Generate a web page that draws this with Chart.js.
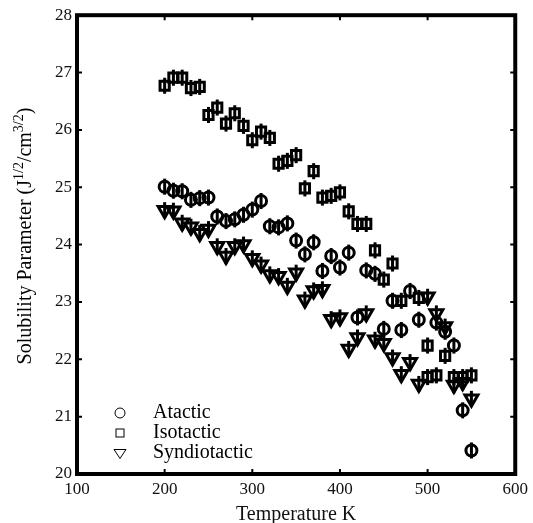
<!DOCTYPE html>
<html>
<head>
<meta charset="utf-8">
<script src="https://cdn.jsdelivr.net/npm/chart.js@4"></script>
<style>
  body { margin: 0; background: #fff; }
  #wrap { width: 533px; height: 523px; position: relative; }
</style>
</head>
<body>
<div id="wrap"><canvas id="solubility-chart"></canvas></div>
<script>
// data (temperature in K, solubility parameter)
const atacticT = [200, 210, 220, 230, 240, 250, 260, 270, 280, 290, 300, 310, 320, 330, 340, 350, 360, 370, 380, 390, 400, 410, 420, 430, 440, 450, 460, 470, 480, 490, 510, 520, 530, 540, 550];
const atacticS = [25.01, 24.94, 24.93, 24.78, 24.81, 24.82, 24.49, 24.41, 24.44, 24.52, 24.61, 24.76, 24.32, 24.30, 24.37, 24.07, 23.83, 24.04, 23.54, 23.80, 23.60, 23.86, 22.73, 23.55, 23.49, 22.53, 23.02, 22.51, 23.19, 22.69, 22.64, 22.48, 22.24, 21.11, 20.41];

const isotacticT = [200, 210, 220, 230, 240, 250, 260, 270, 280, 290, 300, 310, 320, 330, 340, 350, 360, 370, 380, 390, 400, 410, 420, 430, 440, 450, 460, 470, 490, 500, 500, 510, 520, 530, 540, 550];
const isotacticS = [26.77, 26.91, 26.91, 26.73, 26.75, 26.26, 26.39, 26.11, 26.29, 26.07, 25.82, 25.97, 25.86, 25.41, 25.46, 25.56, 24.98, 25.28, 24.82, 24.85, 24.91, 24.58, 24.36, 24.36, 23.90, 23.39, 23.67, 23.02, 23.07, 22.24, 21.69, 21.72, 22.06, 21.69, 21.69, 21.72];

const syndioT = [200, 210, 220, 230, 240, 250, 260, 270, 280, 290, 300, 310, 320, 330, 340, 350, 360, 370, 380, 390, 400, 410, 420, 430, 440, 450, 460, 470, 480, 490, 500, 510, 520, 530, 540, 550];
const syndioS = [24.60, 24.59, 24.38, 24.31, 24.20, 24.27, 23.97, 23.80, 23.97, 24.00, 23.76, 23.65, 23.48, 23.45, 23.28, 23.51, 23.04, 23.20, 23.22, 22.70, 22.73, 22.18, 22.38, 22.80, 22.34, 22.28, 22.03, 21.74, 21.95, 21.57, 23.09, 22.80, 22.57, 21.55, 21.60, 21.31];

const seriesNames = ['Atactic', 'Isotactic', 'Syndiotactic'];
const errBar = 0.14; // +/- error shown on every point

const xTicks = [100, 200, 300, 400, 500, 600];
const yTicks = [20, 21, 22, 23, 24, 25, 26, 27, 28];

const SERIF = "'Liberation Serif', 'DejaVu Serif', serif";

function toPoints(xs, ys) {
    return xs.map((x, i) => ({ x: x, y: ys[i] }));
}

// vertical error bars through each marker
const errorBars = {
    id: 'errorBars',
    afterDatasetsDraw(chart) {
        const ctx = chart.ctx;
        const yScale = chart.scales.y;
        ctx.save();
        ctx.strokeStyle = '#000';
        ctx.lineWidth = 3;
        chart.data.datasets.forEach((ds, i) => {
            const meta = chart.getDatasetMeta(i);
            meta.data.forEach((pt, j) => {
                const v = ds.data[j].y;
                ctx.beginPath();
                ctx.moveTo(pt.x, yScale.getPixelForValue(v + errBar));
                ctx.lineTo(pt.x, yScale.getPixelForValue(v - errBar));
                ctx.stroke();
            });
        });
        ctx.restore();
    }
};

// box frame with inward ticks on all four sides, legend and y title
const frame = {
    id: 'frame',
    afterDraw(chart) {
        const ctx = chart.ctx;
        const a = chart.chartArea;
        const xs = chart.scales.x, ys = chart.scales.y;
        ctx.save();
        ctx.strokeStyle = '#000';
        ctx.lineWidth = 4;
        ctx.strokeRect(a.left, a.top, a.right - a.left, a.bottom - a.top);

        ctx.lineWidth = 2;
        const len = 5;
        xTicks.slice(1, -1).forEach(t => {
            const px = xs.getPixelForValue(t);
            ctx.beginPath();
            ctx.moveTo(px, a.bottom); ctx.lineTo(px, a.bottom - len);
            ctx.moveTo(px, a.top); ctx.lineTo(px, a.top + len);
            ctx.stroke();
        });
        yTicks.slice(1, -1).forEach(t => {
            const py = ys.getPixelForValue(t);
            ctx.beginPath();
            ctx.moveTo(a.left, py); ctx.lineTo(a.left + len, py);
            ctx.moveTo(a.right, py); ctx.lineTo(a.right - len, py);
            ctx.stroke();
        });

        // legend
        const lx = 120, tx = 153;
        const rows = [413, 433, 453];
        ctx.lineWidth = 1;
        ctx.strokeStyle = '#000';
        ctx.fillStyle = '#000';
        ctx.font = '20px ' + SERIF;
        ctx.textBaseline = 'alphabetic';
        ctx.textAlign = 'left';
        // circle
        ctx.beginPath();
        ctx.arc(lx, rows[0], 5, 0, Math.PI * 2);
        ctx.stroke();
        // square
        ctx.strokeRect(lx - 4, rows[1] - 4, 8, 8);
        // down triangle
        ctx.beginPath();
        ctx.moveTo(lx - 6, rows[2] - 3.5);
        ctx.lineTo(lx + 6, rows[2] - 3.5);
        ctx.lineTo(lx, rows[2] + 5.5);
        ctx.closePath();
        ctx.stroke();
        seriesNames.forEach((name, i) => ctx.fillText(name, tx, rows[i] + 5));

        // y axis title with superscripts
        const parts = [
            ['Solubility Parameter (J', false],
            ['1/2', true],
            ['/cm', false],
            ['3/2', true],
            [')', false]
        ];
        const big = '20px ' + SERIF, small = '14px ' + SERIF;
        let total = 0;
        parts.forEach(p => { ctx.font = p[1] ? small : big; total += ctx.measureText(p[0]).width; });
        ctx.translate(26, 236);
        ctx.rotate(-Math.PI / 2);
        ctx.textBaseline = 'middle';
        let cx = -total / 2;
        parts.forEach(p => {
            ctx.font = p[1] ? small : big;
            ctx.fillText(p[0], cx, p[1] ? -7 : 0);
            cx += ctx.measureText(p[0]).width;
        });
        ctx.restore();
    }
};

const ctx = document.getElementById('solubility-chart').getContext('2d');
const chart = new Chart(ctx, {
    type: 'scatter',
    data: {
        datasets: [{
            label: seriesNames[0],
            data: toPoints(atacticT, atacticS),
            pointStyle: 'circle',
            pointRadius: 5.5,
            borderColor: '#000',
            backgroundColor: 'rgba(0,0,0,0)',
            borderWidth: 3
        }, {
            label: seriesNames[1],
            data: toPoints(isotacticT, isotacticS),
            pointStyle: 'rect',
            pointRadius: 6.5,
            borderColor: '#000',
            backgroundColor: 'rgba(0,0,0,0)',
            borderWidth: 3
        }, {
            label: seriesNames[2],
            data: toPoints(syndioT, syndioS),
            pointStyle: 'triangle',
            rotation: 180,
            pointRadius: 7.5,
            borderColor: '#000',
            backgroundColor: 'rgba(0,0,0,0)',
            borderWidth: 3
        }]
    },
    options: {
        responsive: true,
        maintainAspectRatio: false,
        animation: false,
        layout: { padding: { left: 0, top: 13, right: 16, bottom: 0 } },
        plugins: {
            legend: { display: false },
            tooltip: { enabled: false }
        },
        scales: {
            x: {
                type: 'linear',
                min: 100,
                max: 600,
                afterFit: s => { s.height = 49; },
                afterBuildTicks: s => { s.ticks = xTicks.map(v => ({ value: v })); },
                grid: { display: false, drawTicks: false },
                border: { display: false },
                ticks: { color: '#111', padding: 5, font: { family: SERIF, size: 17 } },
                title: {
                    display: true,
                    text: 'Temperature K',
                    color: '#111',
                    padding: { top: 0, bottom: -2 },
                    font: { family: SERIF, size: 20, lineHeight: 1 }
                }
            },
            y: {
                type: 'linear',
                min: 20,
                max: 28,
                afterFit: s => { s.width = 77; },
                afterBuildTicks: s => { s.ticks = yTicks.map(v => ({ value: v })); },
                grid: { display: false, drawTicks: false },
                border: { display: false },
                ticks: { color: '#111', padding: 5, font: { family: SERIF, size: 17 } }
            }
        }
    },
    plugins: [errorBars, frame]
});
</script>
</body>
</html>
